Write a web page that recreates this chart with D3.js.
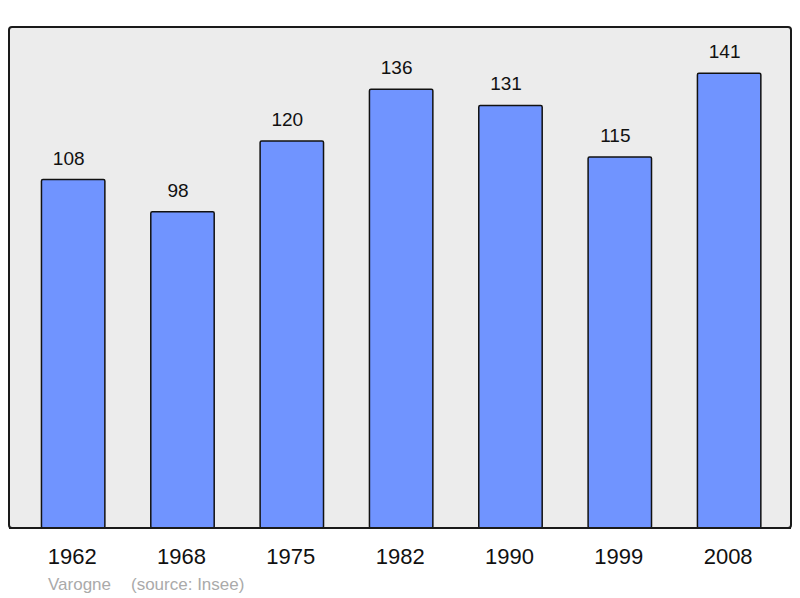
<!DOCTYPE html>
<html>
<head>
<meta charset="utf-8">
<script src="https://cdn.jsdelivr.net/npm/d3@7"></script>
<style>
  body { margin: 0; background: #fff; }
  svg { display: block; }
</style>
</head>
<body>
<svg id="chart"></svg>
<script>
const years = ['1962', '1968', '1975', '1982', '1990', '1999', '2008']
const population = [108, 98, 120, 136, 131, 115, 141]
const commune = 'Varogne'
const source = '(source: Insee)'

const width = 800
const height = 598
const frame = { left: 9, top: 27, right: 791, bottom: 528 }
const font = 'Liberation Sans, Arial, sans-serif'

const svg = d3.select('#chart')
  .attr('width', width)
  .attr('height', height)

svg.append('rect')
  .attr('x', frame.left)
  .attr('y', frame.top)
  .attr('width', frame.right - frame.left)
  .attr('height', frame.bottom - frame.top)
  .attr('rx', 3)
  .attr('fill', '#ececec')
  .attr('stroke', '#1a1a1a')
  .attr('stroke-width', 2)

const x = d3.scaleBand()
  .domain(years)
  .range([18.5, 783.8])
  .paddingInner(0.42)
  .paddingOuter(0.21)

const y = d3.scaleLinear()
  .domain([0, 155])
  .range([frame.bottom, frame.top + 1])

const data = years.map((yr, i) => ({ year: yr, value: population[i] }))

svg.selectAll('rect.bar')
  .data(data)
  .join('rect')
  .attr('class', 'bar')
  .attr('x', d => x(d.year))
  .attr('y', d => y(d.value))
  .attr('width', x.bandwidth())
  .attr('height', d => y(0) - y(d.value))
  .attr('rx', 1.5)
  .attr('fill', '#7094ff')
  .attr('stroke', '#111')
  .attr('stroke-width', 1.5)

// value labels sit a little left of the bar centre in the original
svg.selectAll('text.value')
  .data(data)
  .join('text')
  .attr('class', 'value')
  .attr('x', d => x(d.year) + x.bandwidth() / 2 - 4.5)
  .attr('y', d => y(d.value) - 15)
  .attr('text-anchor', 'middle')
  .attr('font-family', font)
  .attr('font-size', '19px')
  .attr('fill', '#111')
  .text(d => d.value)

// redraw frame bottom line over bars
svg.append('line')
  .attr('x1', frame.left)
  .attr('x2', frame.right)
  .attr('y1', frame.bottom)
  .attr('y2', frame.bottom)
  .attr('stroke', '#1a1a1a')
  .attr('stroke-width', 2)

svg.selectAll('text.year')
  .data(years)
  .join('text')
  .attr('class', 'year')
  .attr('x', d => x(d) + x.bandwidth() / 2 - 1)
  .attr('y', 564)
  .attr('text-anchor', 'middle')
  .attr('font-family', font)
  .attr('font-size', '22px')
  .attr('fill', '#111')
  .text(d => d)

svg.append('text')
  .attr('x', 48)
  .attr('y', 590)
  .attr('font-family', font)
  .attr('font-size', '17px')
  .attr('fill', '#aaaaaa')
  .text(commune)

svg.append('text')
  .attr('x', 131)
  .attr('y', 590)
  .attr('font-family', font)
  .attr('font-size', '17px')
  .attr('fill', '#aaaaaa')
  .text(source)
</script>
</body>
</html>
